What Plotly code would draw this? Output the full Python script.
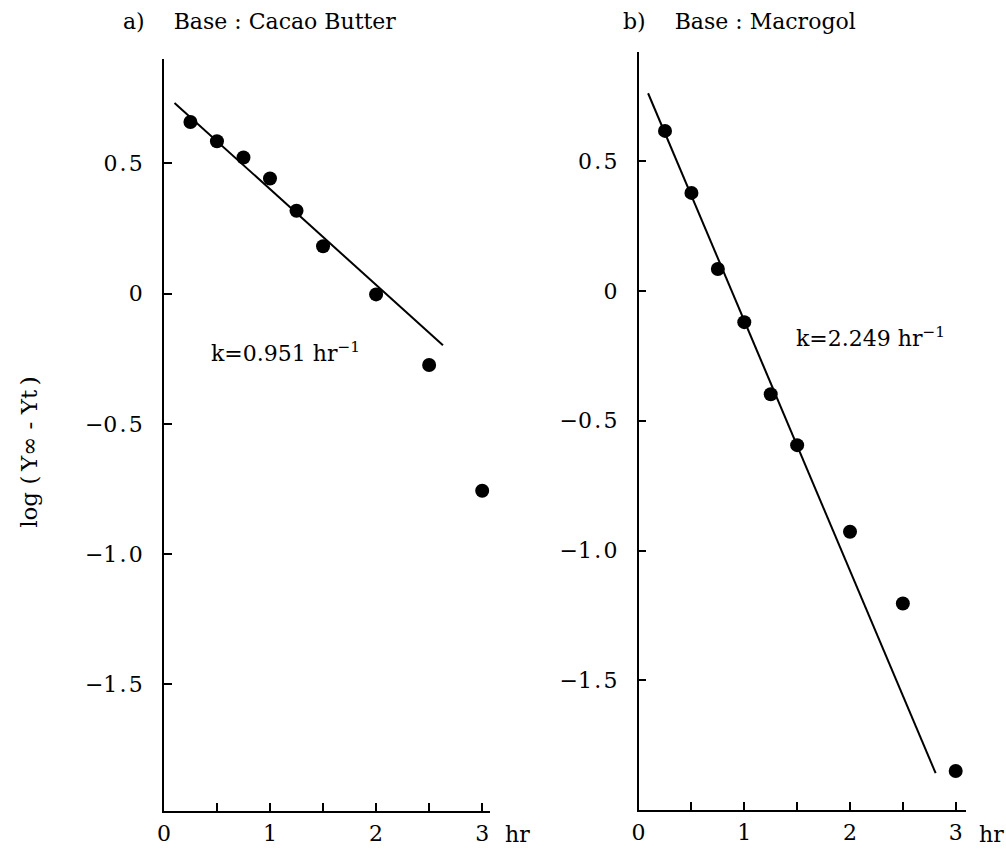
import plotly.graph_objects as go

# Data
time_hr = [0.25, 0.5, 0.75, 1.0, 1.25, 1.5, 2.0, 2.5, 3.0]
cacao_log = [0.659, 0.585, 0.523, 0.442, 0.318, 0.182, -0.003, -0.274, -0.757]
macrogol_log = [0.617, 0.378, 0.085, -0.12, -0.398, -0.594, -0.928, -1.204, -1.850]

cacao_fit_x = [0.10, 2.63]
cacao_fit_y = [0.732, -0.198]
macrogol_fit_x = [0.09, 2.81]
macrogol_fit_y = [0.762, -1.858]

y_tickvals = [0.5, 0, -0.5, -1.0, -1.5]
y_ticktext = ["0\u200a.\u200a5", "0", "\u22120\u200a.\u200a5", "\u22121\u200a.\u200a0", "\u22121\u200a.\u200a5"]
x_tickvals = [0, 1, 2, 3]
x_ticktext = ["0", "1", "2", "3"]

FONT = "DejaVu Serif"
W, H = 1006, 849

fig = go.Figure()

fig.add_trace(go.Scatter(x=time_hr, y=cacao_log, mode="markers",
                         marker=dict(color="black", size=14),
                         xaxis="x", yaxis="y", showlegend=False))
fig.add_trace(go.Scatter(x=cacao_fit_x, y=cacao_fit_y, mode="lines",
                         line=dict(color="black", width=2),
                         xaxis="x", yaxis="y", showlegend=False))
fig.add_trace(go.Scatter(x=time_hr, y=macrogol_log, mode="markers",
                         marker=dict(color="black", size=14),
                         xaxis="x2", yaxis="y2", showlegend=False))
fig.add_trace(go.Scatter(x=macrogol_fit_x, y=macrogol_fit_y, mode="lines",
                         line=dict(color="black", width=2),
                         xaxis="x2", yaxis="y2", showlegend=False))

axis_common = dict(showgrid=False, zeroline=False, showline=True,
                   linecolor="black", linewidth=1.5, ticks="inside",
                   ticklen=8, tickwidth=1.5, tickcolor="black",
                   tickfont=dict(family=FONT, size=22, color="black"))

xa = dict(axis_common, tickmode="array", tickvals=x_tickvals,
          ticktext=x_ticktext, ticklabelstandoff=2,
          minor=dict(tick0=0, dtick=0.5, ticks="inside", ticklen=8,
                     tickwidth=1.5, tickcolor="black", showgrid=False))
ya = dict(axis_common, tickmode="array", tickvals=y_tickvals,
          ticktext=y_ticktext, ticklabelstandoff=15)

fig.update_layout(
    width=W, height=H,
    margin=dict(l=0, r=0, t=0, b=0),
    paper_bgcolor="white", plot_bgcolor="white",
    xaxis=dict(xa, domain=[158 / W, 486 / W], range=[0, 3.07], anchor="y"),
    yaxis=dict(ya, domain=[1 - 811 / H, 1 - 59 / H], range=[-1.987, 0.901], anchor="x"),
    xaxis2=dict(xa, domain=[636 / W, 966 / W], range=[0, 3.1], anchor="y2"),
    yaxis2=dict(ya, domain=[1 - 810 / H, 1 - 52 / H], range=[-2.0, 0.921], anchor="x2"),
)

ann_font = dict(family=FONT, size=22, color="black")
annotations = [
    dict(text="a)\u2003 Base : Cacao Butter", x=115 / W, y=1 - 22 / H,
         xanchor="left", yanchor="middle"),
    dict(text="b)\u2003 Base : Macrogol", x=618 / W, y=1 - 22 / H,
         xanchor="left", yanchor="middle"),
    dict(text="log (\u2009Y\u221e - Yt\u2009)", x=22 / W, y=1 - 452 / H, textangle=-90,
         xanchor="center", yanchor="middle", font=dict(family=FONT, size=23, color="black")),
    dict(text="k=0.951 hr<sup>\u22121</sup>", x=203 / W, y=1 - 352 / H,
         xanchor="left", yanchor="middle"),
    dict(text="k=2.249 hr<sup>\u22121</sup>", x=793 / W, y=1 - 337 / H,
         xanchor="left", yanchor="middle"),
    dict(text="hr", x=514 / W, y=1 - 834 / H, xanchor="center", yanchor="middle"),
    dict(text="hr", x=991 / W, y=1 - 834 / H, xanchor="center", yanchor="middle"),
]
for a in annotations:
    a.setdefault("font", ann_font)
    a.update(xref="paper", yref="paper", showarrow=False)
fig.update_layout(annotations=annotations)

fig.write_html("out.html", config={"displayModeBar": False},
               post_script="document.body.style.margin='0px';")
